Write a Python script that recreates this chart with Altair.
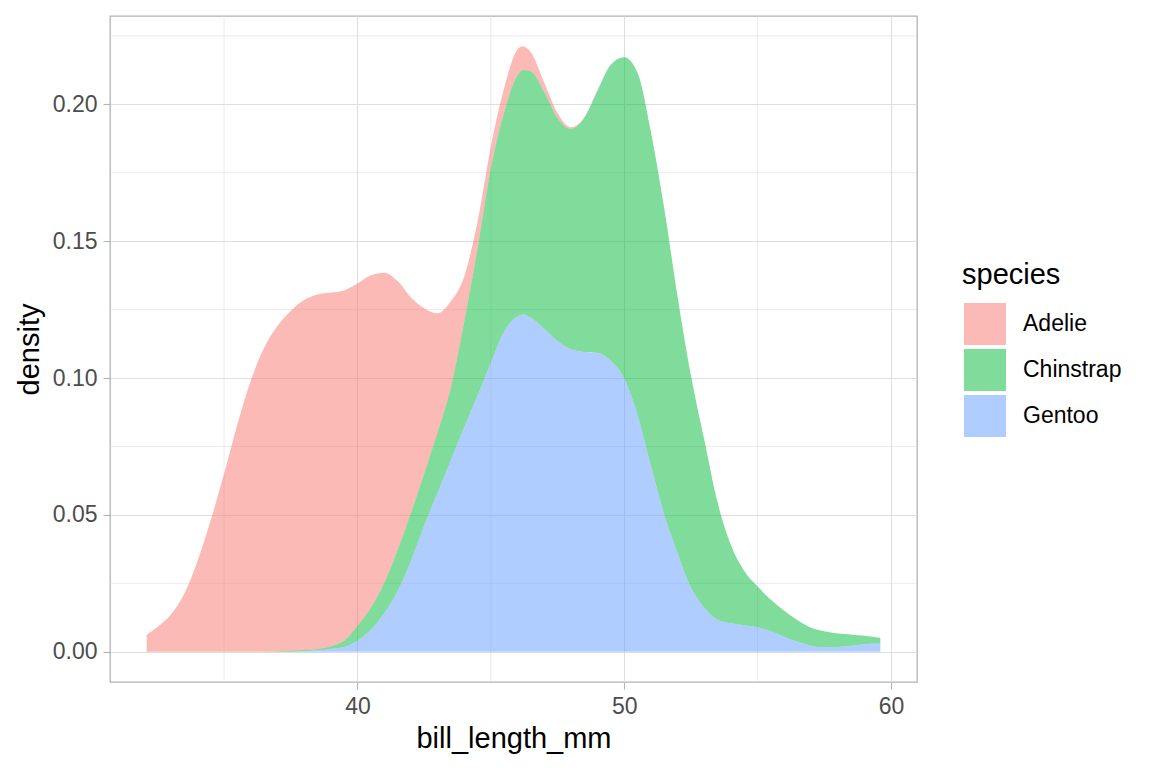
import altair as alt
import pandas as pd

# grid of bill lengths the densities were read at
bill_length = [
    32.1, 32.5, 33.0, 33.5, 34.0, 34.5, 35.0, 35.5, 36.0, 36.5,
    37.0, 37.5, 38.0, 38.5, 39.0, 39.5, 40.0, 40.5, 41.0, 41.5,
    42.0, 42.5, 43.0, 43.5, 44.0, 44.5, 45.0, 45.5, 46.0, 46.2, 46.5,
    47.0, 47.5, 48.0, 48.5, 49.0, 49.5, 50.0, 50.5, 51.0, 51.5,
    52.0, 52.5, 53.0, 53.5, 54.0, 54.5, 55.0, 55.5, 56.0, 56.5,
    57.0, 57.5, 58.0, 58.5, 59.0, 59.5, 59.6,
]

# per-species density (stacked by the chart)
adelie = [
    0.0062, 0.0090, 0.0135, 0.0210, 0.0330, 0.0480, 0.0650, 0.0830, 0.0990, 0.1110,
    0.1188, 0.1241, 0.1279, 0.1295, 0.1292, 0.1280, 0.1250, 0.1215, 0.1135, 0.0985,
    0.0790, 0.0605, 0.0436, 0.0315, 0.0165, 0.0100, 0.0080, 0.0090, 0.0095, 0.0087, 0.0070,
    0.0035, 0.0018, 0.0006, 0.0002, 0.0001, 0.0, 0.0, 0.0, 0.0, 0.0,
    0.0, 0.0, 0.0, 0.0, 0.0, 0.0, 0.0, 0.0, 0.0, 0.0,
    0.0, 0.0, 0.0, 0.0, 0.0, 0.0, 0.0,
]
chinstrap = [
    0.0, 0.0, 0.0, 0.0, 0.0, 0.0, 0.0, 0.0, 0.0, 0.0,
    0.0002, 0.0004, 0.0004, 0.0005, 0.0010, 0.0023, 0.0055, 0.0080, 0.0110, 0.0150,
    0.0175, 0.0190, 0.0220, 0.0265, 0.0385, 0.0535, 0.0710, 0.0800, 0.0880, 0.0893, 0.0900,
    0.0865, 0.0815, 0.0805, 0.0855, 0.0958, 0.1083, 0.1174, 0.1250, 0.1220, 0.1120,
    0.0937, 0.0775, 0.0613, 0.0428, 0.0286, 0.0198, 0.0149, 0.0115, 0.0096, 0.0079,
    0.0066, 0.0059, 0.0050, 0.0041, 0.0031, 0.0022, 0.0020,
]
gentoo = [
    0.0, 0.0, 0.0, 0.0, 0.0, 0.0, 0.0, 0.0, 0.0, 0.0,
    0.0, 0.0, 0.0002, 0.0005, 0.0010, 0.0017, 0.0040, 0.0080, 0.0140, 0.0220,
    0.0330, 0.0460, 0.0580, 0.0700, 0.0820, 0.0935, 0.1055, 0.1170, 0.1225, 0.1232, 0.1220,
    0.1180, 0.1135, 0.1105, 0.1095, 0.1092, 0.1062, 0.0998, 0.0865, 0.0680, 0.0500,
    0.0360, 0.0235, 0.0162, 0.0117, 0.0104, 0.0097, 0.0089, 0.0075, 0.0054, 0.0036,
    0.0022, 0.0016, 0.0017, 0.0022, 0.0027, 0.0030, 0.0030,
]

species = ["Adelie", "Chinstrap", "Gentoo"]
colors = ["#F8766D", "#00BA38", "#619CFF"]

x_breaks = [40, 50, 60]
x_minor = [35, 45, 55]
y_breaks = [0.0, 0.05, 0.10, 0.15, 0.20]
y_minor = [0.025, 0.075, 0.125, 0.175, 0.225]

rows = []
for name, dens in zip(species, [adelie, chinstrap, gentoo]):
    for x, d in zip(bill_length, dens):
        rows.append({"species": name, "bill_length_mm": x, "density": d})
df = pd.DataFrame(rows)

x_scale = alt.Scale(domain=[30.725, 60.975], nice=False, zero=False)
y_scale = alt.Scale(domain=[-0.01106, 0.23226], nice=False, zero=False)
x_axis = alt.Axis(values=x_breaks, title="bill_length_mm")
y_axis = alt.Axis(values=y_breaks, format=".2f", title="density")

# minor grid lines, as in ggplot
minor_x = alt.Chart(pd.DataFrame({"v": x_minor})).mark_rule(
    color="#DEDEDE", strokeWidth=0.6
).encode(x=alt.X("v:Q", scale=x_scale, axis=x_axis))

minor_y = alt.Chart(pd.DataFrame({"v": y_minor})).mark_rule(
    color="#DEDEDE", strokeWidth=0.6
).encode(y=alt.Y("v:Q", scale=y_scale, axis=y_axis))

area = alt.Chart(df).mark_area(opacity=0.5, interpolate="monotone").encode(
    x=alt.X("bill_length_mm:Q", scale=x_scale, axis=x_axis),
    y=alt.Y("density:Q", stack="zero", scale=y_scale, axis=y_axis),
    color=alt.Color("species:N", scale=alt.Scale(domain=species, range=colors),
                    legend=alt.Legend(title="species", orient="none",
                                      legendX=852, legendY=245)),
    order=alt.Order("species:N", sort="descending"),
)

chart = alt.layer(minor_x, minor_y, area).properties(
    width=807, height=666,
    padding={"left": 7, "top": 7, "right": 5, "bottom": 5},
).configure_view(
    stroke="#B3B3B3", strokeWidth=1.3
).configure_axis(
    domain=False, grid=True, gridColor="#DEDEDE", gridWidth=1.1,
    tickColor="#B3B3B3", tickWidth=1.1, tickSize=7,
    labelFont="Liberation Sans", labelFontSize=23, labelColor="#4D4D4D",
    labelPadding=6, labelFlush=False,
    titleFont="Liberation Sans", titleFontSize=29, titleFontWeight="normal",
    titleColor="black",
).configure_axisX(
    titlePadding=6
).configure_axisY(
    titlePadding=8
).configure_legend(
    titleFont="Liberation Sans", titleFontSize=29, titleFontWeight="normal",
    titleColor="black", titlePadding=13,
    labelFont="Liberation Sans", labelFontSize=23, labelColor="black",
    labelOffset=17, symbolType="square", symbolSize=1764, symbolOffset=2,
    symbolStrokeWidth=0, symbolOpacity=0.5, rowPadding=4, padding=0,
)

chart.save("out.html", embed_options={"renderer": "svg", "actions": False})
